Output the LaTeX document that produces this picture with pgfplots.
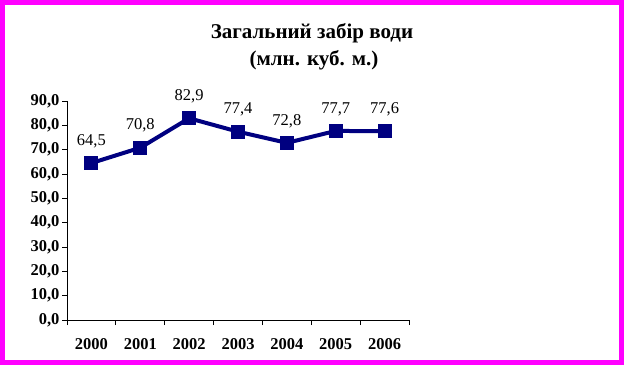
\documentclass[border=0pt]{standalone}
\usepackage{fontspec}
\setmainfont{Liberation Serif}
\usepackage{pgfplots}
\pgfplotsset{compat=1.18}
\definecolor{navyline}{RGB}{0,0,128}
\definecolor{frame}{RGB}{255,0,255}
\begin{document}
\begin{tikzpicture}[x=1pt,y=1pt]
\useasboundingbox (0,0) rectangle (624,365);
\fill[frame] (0,0) rectangle (624,365);
\fill[white] (5,5) rectangle (619,360);
\node[font=\fontsize{21}{25}\selectfont\bfseries, align=center, anchor=base] at (312,326) {Загальний забір води};
\node[font=\fontsize{21}{25}\selectfont\bfseries, align=center, anchor=base] at (314,299) {(млн. куб. м.)};
\begin{axis}[
  at={(67pt,45pt)}, anchor=south west,
  scale only axis, width=342pt, height=219pt,
  xmin=-0.5, xmax=6.5, ymin=0, ymax=90,
  axis x line*=bottom, axis y line*=left,
  axis line style={-, black, line width=1pt},
  xtick={0,...,6},
  xticklabels={2000,2001,2002,2003,2004,2005,2006},
  minor xtick={-0.5,0.5,...,6.5},
  major x tick style={draw=none},
  minor x tick style={black, line width=1pt},
  y tick style={black, line width=1pt},
  tick align=outside,
  major tick length=5pt, minor tick length=5pt,
  ytick={0,10,...,90},
  tick label style={font=\fontsize{16.5}{19}\selectfont\bfseries},
  xticklabel style={yshift=-10pt},
  yticklabel style={xshift=1pt, /pgf/number format/.cd, fixed, fixed zerofill, precision=1, use comma, assume math mode=true},
  nodes near coords,
  every node near coord/.append style={font=\fontsize{16.5}{19}\selectfont, text=black, anchor=center, yshift=22pt,
    /pgf/number format/.cd, fixed, fixed zerofill, precision=1, use comma, assume math mode=true},
  clip=false,
]
\addplot[navyline, line width=4pt, mark=square*, mark size=6.5pt, mark options={fill=navyline, draw=navyline, line width=0pt}] coordinates {
(0,64.5) (1,70.8) (2,82.9) (3,77.4) (4,72.8) (5,77.7) (6,77.6)
};
\end{axis}
\end{tikzpicture}
\end{document}
